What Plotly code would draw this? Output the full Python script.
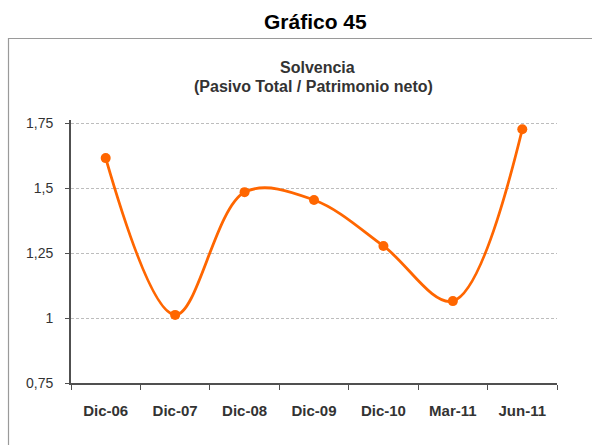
import plotly.graph_objects as go

# Solvency ratio (total liabilities / net equity)
periods = ["Dic-06", "Dic-07", "Dic-08", "Dic-09", "Dic-10", "Mar-11", "Jun-11"]
solvencia = [1.615, 1.012, 1.484, 1.454, 1.277, 1.065, 1.726]

y_tickvals = [0.75, 1.0, 1.25, 1.5, 1.75]
y_ticktext = ["0,75", "1", "1,25", "1,5", "1,75"]

W, H = 592, 445
font_family = "Liberation Sans, Arial, sans-serif"
orange = "#FF6600"
axis_color = "#505050"

# plot area in pixels
px_left, px_right = 71, 557
y_lo, y_hi = 0.75, 1.76
px_bottom = 383
px_per_unit = 260
px_top = px_bottom - (y_hi - y_lo) * px_per_unit

fig = go.Figure()
fig.add_trace(go.Scatter(
    x=periods,
    y=solvencia,
    mode="lines+markers",
    line=dict(color=orange, width=2.8, shape="spline", smoothing=1.0),
    marker=dict(color=orange, size=10),
    showlegend=False,
))

fig.update_layout(
    width=W,
    height=H,
    autosize=False,
    margin=dict(l=0, r=0, t=0, b=0, pad=0, autoexpand=False),
    paper_bgcolor="white",
    plot_bgcolor="white",
    font=dict(family=font_family, color="#333333"),
    separators=",.",
    xaxis=dict(
        domain=[px_left / W, px_right / W],
        range=[-0.5, 6.5],
        automargin=False,
        showgrid=False,
        showline=True,
        linecolor=axis_color,
        linewidth=1.8,
        ticks="outside",
        tickson="boundaries",
        ticklen=5,
        tickwidth=1.2,
        tickcolor=axis_color,
        tickfont=dict(size=15, color="#333333", family=font_family, weight="bold"),
        ticklabelstandoff=13,
        fixedrange=True,
    ),
    yaxis=dict(
        domain=[1 - px_bottom / H, 1 - px_top / H],
        range=[y_lo, y_hi],
        automargin=False,
        tickvals=y_tickvals,
        ticktext=y_ticktext,
        showgrid=True,
        gridcolor="#BDBDBD",
        griddash="3px,2px",
        gridwidth=1,
        zeroline=False,
        showline=True,
        linecolor=axis_color,
        linewidth=1.8,
        ticks="outside",
        ticklen=4,
        tickwidth=1.2,
        tickcolor=axis_color,
        tickfont=dict(size=14, color="#333333", family=font_family),
        ticklabelstandoff=9,
        fixedrange=True,
    ),
    shapes=[
        dict(
            type="rect", xref="paper", yref="paper",
            x0=8.5 / W, x1=1.05, y0=-0.05, y1=1 - 38.5 / H,
            line=dict(color="#9A9A9A", width=1.2),
            layer="below",
        )
    ],
    annotations=[
        dict(
            text="<b>Gráfico 45</b>", xref="paper", yref="paper",
            x=315 / W, y=1 - 22 / H, xanchor="center", yanchor="middle",
            showarrow=False, font=dict(size=21, color="#000000", family=font_family),
        ),
        dict(
            text="<b>Solvencia</b>",
            xref="paper", yref="paper",
            x=317 / W, y=1 - 67 / H, xanchor="center", yanchor="middle",
            showarrow=False,
            font=dict(size=16, color="#333333", family=font_family),
        ),
        dict(
            text="<b>(Pasivo Total / Patrimonio neto)</b>",
            xref="paper", yref="paper",
            x=313 / W, y=1 - 86 / H, xanchor="center", yanchor="middle",
            showarrow=False,
            font=dict(size=16, color="#333333", family=font_family),
        ),
    ],
)

fig.write_html("out.html")
